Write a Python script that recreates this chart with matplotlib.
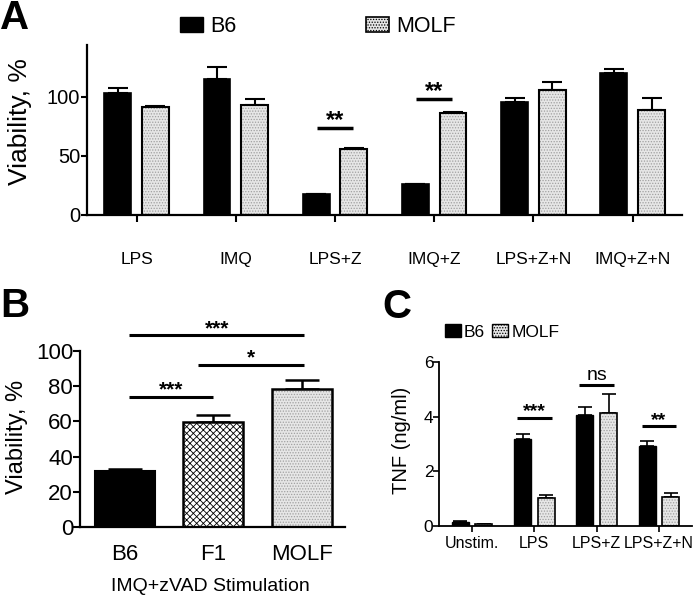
import matplotlib
matplotlib.use('Agg')
import matplotlib.pyplot as plt
from matplotlib.patches import Patch
import numpy as np

# ---------------- data ----------------
a_categories = ['LPS', 'IMQ', 'LPS+Z', 'IMQ+Z', 'LPS+Z+N', 'IMQ+Z+N']
a_b6 = [103, 115, 17.5, 26, 96, 120]
a_b6_err = [4.5, 10, 0, 0, 3, 3.5]
a_molf = [91.5, 93, 56, 86.5, 105.5, 89]
a_molf_err = [0.8, 5.5, 0.5, 0.5, 7.5, 10]
a_sig_cat = [2, 3]
a_sig_y = [74, 98.5]
a_sig_txt = ['**', '**']

b_groups = ['B6', 'F1', 'MOLF']
b_vals = [32, 59.5, 78.5]
b_err = [1, 4.3, 5]
b_sig_from = [0, 1, 0]
b_sig_to = [1, 2, 2]
b_sig_y = [74, 92, 109]
b_sig_txt = ['***', '*', '***']

c_categories = ['Unstim.', 'LPS', 'LPS+Z', 'LPS+Z+N']
c_b6 = [0.15, 3.18, 4.06, 2.92]
c_b6_err = [0.03, 0.18, 0.28, 0.18]
c_molf = [0.06, 1.02, 4.12, 1.05]
c_molf_err = [0.01, 0.11, 0.7, 0.16]
c_sig_cat = [1, 2, 3]
c_sig_y = [3.97, 5.15, 3.66]
c_sig_txt = ['***', 'ns', '**']

series_names = ['B6', 'MOLF']

# ---------------- style ----------------
plt.rcParams['font.family'] = ['Liberation Sans', 'DejaVu Sans']
plt.rcParams['hatch.linewidth'] = 0.6

STIP_FACE = '#e6e6e6'
STIP_HATCH = '#a0a0a0'


def stipple_bars(ax, x, h, w, lw):
    ax.bar(x, h, w, color=STIP_FACE, edgecolor=STIP_HATCH, hatch='......',
           linewidth=0, zorder=2)
    ax.bar(x, h, w, fill=False, edgecolor='black', linewidth=lw, zorder=3)


def style_axes(ax, lw):
    for s in ['top', 'right']:
        ax.spines[s].set_visible(False)
    for s in ['left', 'bottom']:
        ax.spines[s].set_linewidth(lw)


fig = plt.figure(figsize=(6.93, 5.98), dpi=100)

# ================= Panel A =================
axA = fig.add_axes([0.1255, 0.6405, 0.859, 0.2842])
xa = np.arange(len(a_categories))
off, bw = 0.19, 0.27
axA.bar(xa - off, a_b6, bw, color='black', edgecolor='black', linewidth=1.2, zorder=3)
stipple_bars(axA, xa + off, a_molf, bw, 1.5)
axA.errorbar(xa - off, a_b6, yerr=[np.zeros(len(a_b6)), a_b6_err], fmt='none',
             ecolor='black', elinewidth=1.5, capsize=7, capthick=1.5, zorder=1)
axA.errorbar(xa + off, a_molf, yerr=[np.zeros(len(a_molf)), a_molf_err], fmt='none',
             ecolor='black', elinewidth=1.5, capsize=7, capthick=1.5, zorder=1)
for c, y, t in zip(a_sig_cat, a_sig_y, a_sig_txt):
    axA.plot([c - 0.18, c + 0.18], [y, y], color='black', lw=2.5, solid_capstyle='butt')
    axA.annotate(t, (c, y), xytext=(0, -3), textcoords='offset points',
                 ha='center', va='bottom', fontsize=17, fontweight='bold')
axA.set_xlim(-0.5, 5.5)
axA.set_ylim(0, 144)
axA.set_yticks([0, 50, 100])
axA.tick_params(axis='y', labelsize=14.5, length=4, width=1.5, pad=1)
axA.set_xticks(xa)
axA.set_xticklabels(a_categories, fontsize=12.5)
axA.tick_params(axis='x', length=5, width=1.5, pad=22)
style_axes(axA, 1.6)
axA.set_ylabel('Viability, %', fontsize=19)
axA.yaxis.set_label_coords(-0.093, 0.55)
hA = [Patch(facecolor='black', edgecolor='black'),
      Patch(facecolor=STIP_FACE, edgecolor='black', hatch='......', linewidth=1.2)]
fig.legend(hA, series_names, loc='center left', bbox_to_anchor=(0.26, 0.955),
           ncol=2, frameon=False, borderpad=0, borderaxespad=0,
           handlelength=1.06, handleheight=0.7, handletextpad=0.34,
           columnspacing=6.0, prop={'size': 15.5})
fig.text(0.0, 0.97, 'A', fontsize=29, fontweight='bold', va='center', ha='left')

# ================= Panel B =================
axB = fig.add_axes([0.1154, 0.1187, 0.3826, 0.2943])
xb = np.arange(len(b_groups))
bwb = 0.68
axB.bar(xb[0], b_vals[0], bwb, color='black', edgecolor='black', linewidth=1.5, zorder=3)
axB.bar(xb[1], b_vals[1], bwb, color='white', edgecolor='black', hatch='xxxxx',
        linewidth=0, zorder=2)
axB.bar(xb[1], b_vals[1], bwb, fill=False, edgecolor='black', linewidth=1.8, zorder=3)
stipple_bars(axB, xb[2], b_vals[2], bwb, 1.8)
axB.errorbar(xb, b_vals, yerr=[np.zeros(len(b_vals)), b_err], fmt='none',
             ecolor='black', elinewidth=1.8, capsize=12, capthick=1.8, zorder=1)
for i0, i1, y, t in zip(b_sig_from, b_sig_to, b_sig_y, b_sig_txt):
    x0 = xb[i0] + (0.05 if i0 == 0 else -0.17)
    x1 = xb[i1] + (0.0 if i1 == 1 else 0.03)
    axB.plot([x0, x1], [y, y], color='black', lw=2.2, clip_on=False,
             solid_capstyle='butt')
    axB.annotate(t, ((x0 + x1) / 2, y), xytext=(0, -2), textcoords='offset points',
                 ha='center', va='bottom', fontsize=15, fontweight='bold',
                 annotation_clip=False)
axB.set_xlim(-0.51, 2.49)
axB.set_ylim(0, 100)
axB.set_yticks([0, 20, 40, 60, 80, 100])
axB.tick_params(axis='y', labelsize=16, length=5, width=1.5, pad=0)
axB.set_xticks(xb)
axB.set_xticklabels(b_groups, fontsize=16)
axB.tick_params(axis='x', length=0, pad=12)
axB.set_xticks([1], minor=True)
axB.tick_params(axis='x', which='minor', length=5, width=1.5)
style_axes(axB, 1.6)
axB.set_ylabel('Viability, %', fontsize=17)
axB.yaxis.set_label_coords(-0.196, 0.51)
axB.set_xlabel('IMQ+zVAD Stimulation', fontsize=14)
axB.xaxis.set_label_coords(0.49, -0.29)
fig.text(0.0, 0.488, 'B', fontsize=29, fontweight='bold', va='center', ha='left')

# ================= Panel C =================
axC = fig.add_axes([0.6335, 0.1204, 0.3651, 0.2742])
xc = np.arange(len(c_categories))
axC.bar(xc - off, c_b6, bw, color='black', edgecolor='black', linewidth=1.0, zorder=3)
stipple_bars(axC, xc + off, c_molf, bw, 1.2)
axC.errorbar(xc - off, c_b6, yerr=[np.zeros(len(c_b6)), c_b6_err], fmt='none',
             ecolor='black', elinewidth=1.2, capsize=5, capthick=1.2, zorder=1)
axC.errorbar(xc + off, c_molf, yerr=[np.zeros(len(c_molf)), c_molf_err], fmt='none',
             ecolor='black', elinewidth=1.2, capsize=5, capthick=1.2, zorder=1)
for c, y, t in zip(c_sig_cat, c_sig_y, c_sig_txt):
    axC.plot([c - 0.28, c + 0.28], [y, y], color='black', lw=2.2, solid_capstyle='butt')
    is_ns = (t == 'ns')
    axC.annotate(t, (c, y), xytext=(0, 1 if is_ns else -2), textcoords='offset points',
                 ha='center', va='bottom', fontsize=14,
                 fontweight='normal' if is_ns else 'bold')
axC.set_xlim(-0.53, 3.53)
axC.set_ylim(0, 6)
axC.set_yticks([0, 2, 4, 6])
axC.tick_params(axis='y', labelsize=12.5, length=4, width=1.2, pad=0)
axC.set_xticks(xc)
axC.set_xticklabels(c_categories, fontsize=11.5)
axC.tick_params(axis='x', length=4, width=1.2, pad=3)
style_axes(axC, 1.3)
axC.set_ylabel('TNF (ng/ml)', fontsize=14.5)
axC.yaxis.set_label_coords(-0.11, 0.524)
hC = [Patch(facecolor='black', edgecolor='black'),
      Patch(facecolor=STIP_FACE, edgecolor='black', hatch='......', linewidth=1.0)]
fig.legend(hC, series_names, loc='center left', bbox_to_anchor=(0.642, 0.445),
           ncol=2, frameon=False, borderpad=0, borderaxespad=0,
           handlelength=0.9, handleheight=0.78, handletextpad=0.2,
           columnspacing=0.4, prop={'size': 12.5})
fig.text(0.552, 0.487, 'C', fontsize=29, fontweight='bold', va='center', ha='left')

fig.savefig('out.png', dpi=100)
